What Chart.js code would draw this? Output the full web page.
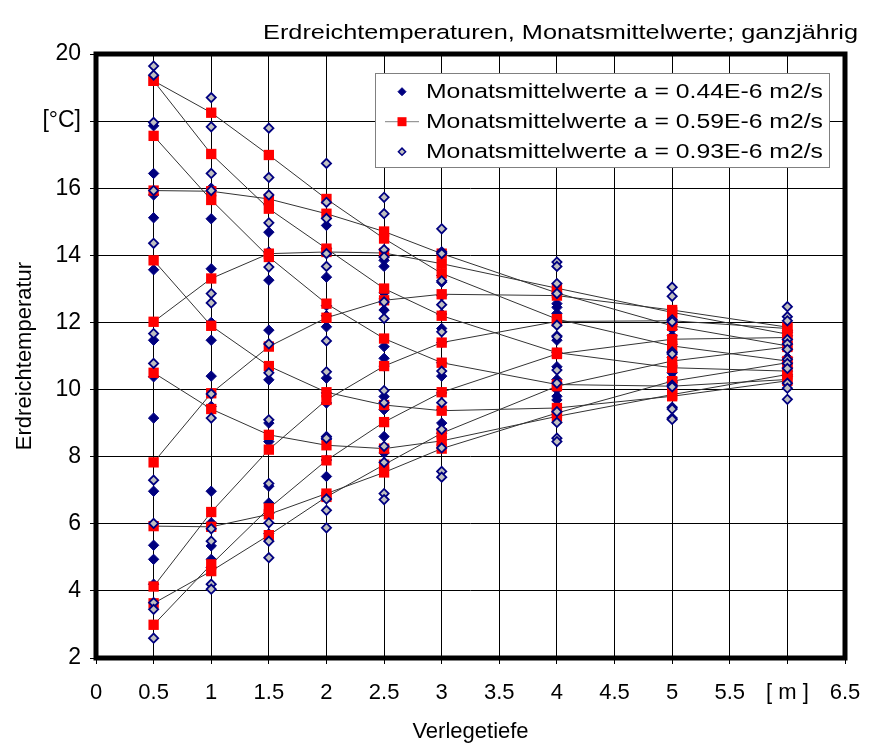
<!DOCTYPE html>
<html>
<head>
<meta charset="utf-8">
<script src="https://cdn.jsdelivr.net/npm/chart.js@4.4.1/dist/chart.umd.min.js"></script>
<style>
html,body{margin:0;padding:0;background:#ffffff;}
#wrap{width:870px;height:747px;position:relative;}
</style>
</head>
<body>
<div id="wrap"><canvas id="c" width="870" height="747"></canvas></div>
<script>
// ---------- data ----------
const depths = [0.5, 1, 1.5, 2, 2.5, 3, 4, 5, 6];

// a = 0.59E-6 m2/s : one curve per month (values at depths above)
const red_m01 = [3.63, 4.59, 5.66, 6.80, 7.76, 8.70, 10.10, 10.85, 11.27];
const red_m02 = [5.93, 5.91, 6.28, 6.90, 7.53, 8.24, 9.30, 10.25, 10.80];
const red_m03 = [10.50, 9.42, 8.65, 8.34, 8.24, 8.47, 9.20, 9.85, 10.45];
const red_m04 = [13.85, 11.90, 10.70, 9.92, 9.54, 9.37, 9.45, 9.80, 10.26];
const red_m05 = [17.56, 15.65, 13.95, 12.56, 11.52, 10.80, 10.15, 10.10, 10.30];
const red_m06 = [19.20, 17.02, 15.39, 14.20, 13.01, 12.20, 11.10, 10.65, 10.55];
const red_m07 = [19.20, 18.25, 16.99, 15.68, 14.50, 13.46, 12.10, 11.30, 10.85];
const red_m08 = [15.93, 15.91, 15.68, 15.24, 14.71, 14.05, 12.88, 11.90, 11.30];
const red_m09 = [12.02, 13.31, 14.05, 14.10, 14.07, 13.75, 13.02, 12.30, 11.65];
const red_m10 = [7.83, 9.89, 11.28, 12.14, 12.66, 12.84, 12.80, 12.37, 11.86];
const red_m11 = [4.13, 6.35, 8.21, 9.69, 10.70, 11.40, 12.03, 12.05, 11.82];
const red_m12 = [2.99, 4.79, 6.46, 7.89, 9.03, 9.92, 11.06, 11.50, 11.55];

// a = 0.44E-6 m2/s : values per depth
const dark_d05 = [17.86, 16.44, 15.80, 15.12, 13.57, 11.47, 10.38, 9.15, 6.97, 5.36, 4.94, 4.20];
const dark_d10 = [16.00, 15.09, 13.60, 12.00, 11.47, 10.40, 9.50, 6.97, 6.03, 5.34, 4.94, 4.70];
const dark_d15 = [15.50, 14.69, 14.10, 13.26, 11.77, 10.29, 9.00, 8.45, 7.12, 6.62, 6.30, 5.70];
const dark_d20 = [14.89, 14.20, 13.35, 12.50, 12.20, 11.87, 10.34, 9.90, 9.60, 8.52, 7.90, 7.41];
const dark_d25 = [13.85, 13.67, 12.88, 12.70, 12.37, 11.28, 10.93, 10.70, 9.79, 9.40, 8.60, 8.11];
const dark_d30 = [13.40, 13.20, 12.80, 12.25, 11.82, 11.40, 10.80, 10.40, 9.90, 9.40, 9.00, 8.70];
const dark_d40 = [12.56, 12.45, 12.27, 12.00, 11.60, 11.47, 11.10, 10.68, 10.30, 10.00, 9.80, 9.69];
const dark_d50 = [12.00, 11.95, 11.80, 11.60, 11.35, 11.10, 10.95, 10.70, 10.50, 10.35, 10.25, 10.20];
const dark_d60 = [11.75, 11.70, 11.60, 11.50, 11.35, 11.20, 10.95, 10.80, 10.65, 10.55, 10.45, 10.40];

// a = 0.93E-6 m2/s : values per depth
const light_d05 = [19.64, 19.37, 17.96, 15.93, 14.36, 11.67, 10.78, 7.30, 6.01, 3.65, 3.45, 2.59];
const light_d10 = [18.70, 17.83, 16.44, 15.93, 12.86, 12.58, 9.87, 9.15, 5.85, 5.48, 4.20, 4.05];
const light_d15 = [17.79, 16.32, 15.80, 14.97, 13.65, 11.36, 10.50, 9.10, 7.20, 6.03, 5.48, 4.99];
const light_d20 = [16.74, 15.58, 15.10, 14.05, 13.67, 11.45, 10.53, 8.60, 8.55, 6.74, 6.40, 5.88];
const light_d25 = [15.73, 15.24, 14.17, 13.95, 12.61, 12.12, 9.97, 9.61, 8.31, 7.83, 6.90, 6.72];
const light_d30 = [14.79, 14.10, 14.05, 13.24, 12.53, 11.72, 10.55, 9.61, 8.81, 8.26, 7.56, 7.39];
const light_d40 = [13.80, 13.67, 13.16, 12.86, 11.92, 11.57, 10.58, 10.19, 9.34, 9.02, 8.55, 8.45];
const light_d50 = [13.05, 12.78, 12.08, 12.02, 11.12, 11.06, 10.13, 10.08, 9.47, 9.42, 9.15, 9.11];
const light_d60 = [12.47, 12.17, 12.05, 11.49, 11.36, 11.20, 10.90, 10.78, 10.63, 10.19, 10.04, 9.71];

const xTickLabels = ['0','0.5','1','1.5','2','2.5','3','3.5','4','4.5','5','5.5','[ m ]','6.5'];
const yTickLabels = ['2','4','6','8','10','12','14','16','[°C]','20'];
const chartTitle = 'Erdreichtemperaturen, Monatsmittelwerte; ganzjährig';
const xAxisTitle = 'Verlegetiefe';
const yAxisTitle = 'Erdreichtemperatur';
const seriesNames = ['Monatsmittelwerte a = 0.44E-6 m2/s','Monatsmittelwerte a = 0.59E-6 m2/s','Monatsmittelwerte a = 0.93E-6 m2/s'];

// ---------- build ----------
const FONT = "'Liberation Sans', Arial, sans-serif";
const redMonths = [red_m01,red_m02,red_m03,red_m04,red_m05,red_m06,red_m07,red_m08,red_m09,red_m10,red_m11,red_m12];
const darkByDepth = [dark_d05,dark_d10,dark_d15,dark_d20,dark_d25,dark_d30,dark_d40,dark_d50,dark_d60];
const lightByDepth = [light_d05,light_d10,light_d15,light_d20,light_d25,light_d30,light_d40,light_d50,light_d60];

function byDepth(lists){
  const pts=[];
  lists.forEach((vals,i)=>vals.forEach(v=>pts.push({x:depths[i],y:v})));
  return pts;
}
const NAVY='#000080', RED='#ff0000', SILVER='#c0c0c0';

const datasets=[];
datasets.push({label:seriesNames[2], data:byDepth(lightByDepth), showLine:false,
  pointStyle:'rectRot', pointRadius:4.6, pointBackgroundColor:SILVER, pointBorderColor:NAVY, pointBorderWidth:1.8});
redMonths.forEach((m,k)=>{
  datasets.push({label:seriesNames[1], data:m.map((v,i)=>({x:depths[i],y:v})), showLine:true,
    borderColor:'#333333', borderWidth:1, fill:false, tension:0,
    pointStyle:'rect', pointRadius:7.3, pointBackgroundColor:RED, pointBorderColor:RED, pointBorderWidth:0});
});
datasets.push({label:seriesNames[0], data:byDepth(darkByDepth), showLine:false,
  pointStyle:'rectRot', pointRadius:5.2, pointBackgroundColor:NAVY, pointBorderColor:NAVY, pointBorderWidth:1});

function stretchedText(ctx, text, x, y, width, align, font){
  ctx.save();
  ctx.font = font;
  const w = ctx.measureText(text).width;
  const sx = width / w;
  ctx.textBaseline='alphabetic';
  ctx.textAlign='left';
  ctx.translate(align==='right' ? x - width : x, y);
  ctx.scale(sx,1);
  ctx.fillStyle='#000';
  ctx.fillText(text,0,0);
  ctx.restore();
}
function diamond(ctx,x,y,r,fill,stroke,lw){
  ctx.beginPath();
  ctx.moveTo(x-r,y);ctx.lineTo(x,y-r);ctx.lineTo(x+r,y);ctx.lineTo(x,y+r);ctx.closePath();
  ctx.fillStyle=fill;ctx.fill();
  if(lw){ctx.lineWidth=lw;ctx.strokeStyle=stroke;ctx.stroke();}
}

const decor = {
  id:'decor',
  afterDraw(chart){
    const ctx=chart.ctx, a=chart.chartArea;
    // thick frame
    ctx.save();
    ctx.lineWidth=5; ctx.strokeStyle='#000';
    ctx.strokeRect(a.left, a.top, a.right-a.left, a.bottom-a.top);
    ctx.restore();
    // title
    stretchedText(ctx, chartTitle, 858, 39, 595, 'right', '20.5px '+FONT);
    // legend box
    ctx.save();
    ctx.fillStyle='#fff'; ctx.fillRect(375,73,454,94);
    ctx.lineWidth=1; ctx.strokeStyle='#808080'; ctx.strokeRect(375.5,73.5,454,94);
    const rows=[91.7,121.7,151.7];
    diamond(ctx,402,rows[0],4,NAVY,NAVY,1);
    ctx.beginPath(); ctx.moveTo(385,rows[1]); ctx.lineTo(419,rows[1]); ctx.lineWidth=1; ctx.strokeStyle='#808080'; ctx.stroke();
    ctx.fillStyle=RED; ctx.fillRect(397.5,rows[1]-4.5,9,9);
    diamond(ctx,402,rows[2],3.6,SILVER,NAVY,1.5);
    ctx.restore();
    seriesNames.forEach((n,i)=>stretchedText(ctx, n, 426, rows[i]+6.2, 397, 'left', '20.5px '+FONT));
  }
};

new Chart(document.getElementById('c'), {
  type:'scatter',
  data:{datasets},
  options:{
    responsive:false, animation:false, devicePixelRatio:1,
    layout:{padding:{left:0,right:25,top:54,bottom:0}},
    plugins:{legend:{display:false}, tooltip:{enabled:false}, title:{display:false}},
    scales:{
      x:{type:'linear', min:0, max:6.5,
        ticks:{stepSize:0.5, autoSkip:false, maxRotation:0, padding:16, color:'#000',
          font:{family:FONT,size:22},
          callback:(v)=>xTickLabels[Math.round(v/0.5)]},
        grid:{color:'#000', lineWidth:1, tickLength:6, tickColor:'#000'},
        border:{display:false},
        title:{display:true, text:xAxisTitle, color:'#000', font:{family:FONT,size:22}, padding:{top:0,bottom:2}},
        afterFit(s){ s.height = 89; s.paddingRight = 0; s.paddingLeft = 0; }
      },
      y:{type:'linear', min:2, max:20,
        ticks:{stepSize:2, padding:9, color:'#000', font:{family:FONT,size:23},
          callback:(v)=>yTickLabels[Math.round((v-2)/2)]},
        grid:{color:'#000', lineWidth:1, tickLength:6, tickColor:'#000'},
        border:{display:false},
        title:{display:true, text:yAxisTitle, color:'#000', font:{family:FONT,size:22}, padding:{top:12,bottom:0}},
        afterFit(s){ s.width = 96; }
      }
    }
  },
  plugins:[decor]
});
</script>
</body>
</html>
